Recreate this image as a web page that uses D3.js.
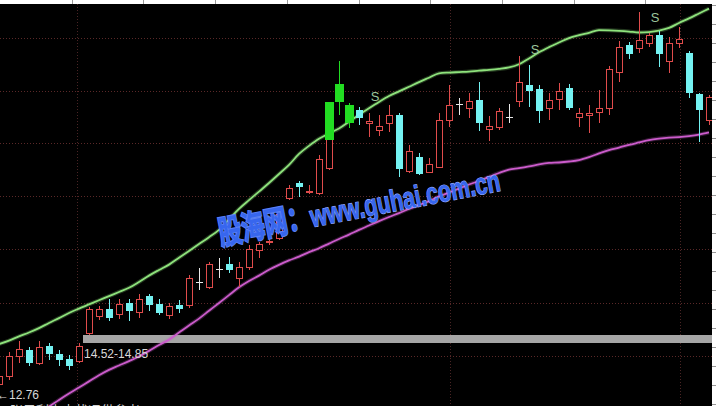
<!DOCTYPE html>
<html><head><meta charset="utf-8">
<script src="https://cdn.jsdelivr.net/npm/d3@7"></script>
<style>html,body{margin:0;padding:0;background:#000;overflow:hidden}</style>
</head><body><svg id="c" width="716" height="406"></svg>
<script>
// ---- data (prices) ----
const openP  = [12.84,13.17,13.99,14.24,13.70,14.40,14.07,13.87,13.79,14.93,15.63,15.91,15.71,16.16,15.79,16.44,16.12,15.67,16.08,16.08,17.02,16.81,17.55,17.75,17.18,17.63,18.33,18.67,18.82,20.45,21.07,20.72,20.66,21.68,25.12,24.27,24.06,23.53,23.24,23.53,23.86,21.56,22.13,21.52,21.72,23.65,24.31,24.14,24.47,23.28,23.37,23.77,24.43,25.08,24.92,24.14,24.51,24.96,23.77,23.86,23.98,24.14,25.62,26.72,26.60,26.80,27.13,26.06,26.80,26.39,24.72,23.65];
const highP  = [13.25,14.15,14.60,14.36,14.60,14.52,14.24,14.03,14.52,15.99,16.03,16.32,16.32,16.32,16.53,16.53,16.32,16.16,16.28,17.30,17.59,17.83,18.00,18.04,17.83,18.53,18.65,18.77,19.88,20.98,21.15,20.98,22.21,23.03,26.07,24.35,24.18,23.94,23.86,24.27,23.94,22.62,22.29,22.09,23.94,25.08,24.55,24.76,25.21,23.82,24.14,24.31,26.27,25.90,25.08,24.76,25.16,25.12,24.14,24.27,24.88,25.86,26.88,26.84,28.07,27.21,27.29,27.05,27.45,26.47,24.76,24.67];
const lowP   = [12.76,13.01,13.70,13.58,13.62,13.83,13.58,13.42,13.70,14.85,15.46,15.42,15.50,15.42,15.54,15.83,15.67,15.50,15.75,15.95,16.69,16.73,17.18,17.38,16.81,17.51,18.00,18.53,18.73,20.37,20.49,20.62,20.58,21.60,23.86,23.32,23.45,22.96,23.00,23.16,21.31,21.48,21.40,21.48,21.68,23.37,23.86,23.73,23.20,22.79,23.24,23.53,24.18,24.18,23.53,23.65,24.06,24.06,23.37,23.12,23.53,23.86,25.21,26.15,26.39,26.64,25.82,25.57,26.60,24.55,22.75,23.45];
const closeP = [13.17,13.99,14.28,13.70,14.36,14.07,13.83,13.58,14.40,15.91,15.91,15.54,16.12,15.83,16.32,16.08,15.75,16.03,15.91,17.18,17.02,17.75,17.55,17.51,17.63,18.37,18.57,18.69,19.80,20.86,20.90,20.74,22.05,23.03,24.39,23.53,23.73,23.61,23.40,23.86,21.64,22.37,21.44,21.85,23.65,24.27,24.31,24.43,23.53,23.40,24.02,23.77,25.21,24.84,24.02,24.47,24.84,24.14,23.94,23.94,24.14,25.74,26.64,26.35,26.92,27.13,26.35,26.80,26.96,24.76,24.06,24.59];
const upperBand = [14.48,14.62,14.79,14.95,15.13,15.34,15.54,15.75,15.93,16.10,16.27,16.44,16.61,16.78,17.02,17.28,17.51,17.73,18.01,18.29,18.57,18.85,19.15,19.58,20.01,20.37,20.72,21.07,21.44,21.81,22.26,22.59,22.88,23.10,23.30,23.58,23.86,24.13,24.39,24.63,24.82,25.01,25.20,25.38,25.56,25.59,25.61,25.63,25.67,25.70,25.74,25.80,25.93,26.17,26.42,26.63,26.82,27.00,27.12,27.22,27.33,27.32,27.30,27.27,27.23,27.25,27.31,27.42,27.62,27.81,28.01,28.21];
const lowerBand = [10.47,10.76,11.04,11.37,11.66,11.92,12.19,12.45,12.70,12.95,13.20,13.42,13.60,13.78,13.97,14.20,14.44,14.66,14.95,15.24,15.52,15.84,16.16,16.48,16.80,17.06,17.28,17.52,17.72,17.90,18.06,18.24,18.40,18.59,18.78,18.96,19.15,19.33,19.51,19.68,19.84,20.01,20.17,20.33,20.52,20.68,20.84,21.01,21.15,21.32,21.48,21.62,21.68,21.75,21.83,21.89,21.91,21.95,22.01,22.13,22.28,22.42,22.52,22.63,22.73,22.83,22.89,22.93,22.95,22.99,23.05,23.14];
// green signal bars
const sigIdx   = [33,34,35];
const sigOpen  = [24.39,25.12,24.27];
const sigHigh  = [24.39,26.07,24.35];
const sigLow   = [22.83,23.86,23.32];
const sigClose = [22.83,24.39,23.53];
// "S" marks
const sIdx = [38,54,66];
const sPrice = [24.43,26.35,27.66];
// grid
const gridPrices = [27.00,24.84,22.70,20.52,18.35,16.15,13.98];
const vGridIdx = [7.8,45.1,68.1];
// gap zone & labels
const gapLow = 14.52, gapHigh = 14.85, gapStartIdx = 8;
const gapLabel = "14.52-14.85";
const lowLabel = "←12.76", lowValue = 12.76;
const bottomText = "张思利中内状况供参考";
const watermarkCJK = "股海网：", watermarkURL = "www.guhai.com.cn";

// ---- drawing ----
const W = 716, H = 406;
const svg = d3.select('#c');
const N = openP.length;
const x = d3.scaleLinear().domain([0, N - 1]).range([-1, 709]);
const y = d3.scaleLinear().domain([12, 28]).range([404.6, 13.7]);
const step = x(1) - x(0);
const bw = Math.round(step * 0.7);
const half = Math.floor(bw / 2);
const R = v => Math.round(v);

svg.append('rect').attr('width', W).attr('height', H).attr('fill', '#000');

const grid = svg.append('g');
grid.selectAll('line.h').data(gridPrices).join('line')
  .attr('x1', 0).attr('x2', 712)
  .attr('y1', d => R(y(d)) + 0.5).attr('y2', d => R(y(d)) + 0.5)
  .attr('stroke', '#5a2828').attr('stroke-dasharray', '1,2');
grid.selectAll('line.v').data(vGridIdx).join('line')
  .attr('x1', d => R(x(d)) + 0.5).attr('x2', d => R(x(d)) + 0.5)
  .attr('y1', 4).attr('y2', H)
  .attr('stroke', '#4a2424').attr('stroke-dasharray', '1,2');

// gap bar
const gx = R(x(gapStartIdx)) + half + 1;
svg.append('rect').attr('x', gx).attr('y', R(y(gapHigh)))
  .attr('width', 712 - gx).attr('height', R(y(gapLow)) - R(y(gapHigh)))
  .attr('fill', '#a6a6a6');

// bands
const line = d3.line().x((d, i) => x(i)).y(d => y(d)).curve(d3.curveMonotoneX);
function band(vals, col) {
  svg.append('path').attr('d', line(vals)).attr('fill', 'none')
    .attr('stroke', col).attr('stroke-width', 4).attr('stroke-opacity', 0.25);
  svg.append('path').attr('d', line(vals)).attr('fill', 'none')
    .attr('stroke', col).attr('stroke-width', 1.8);
}
band(lowerBand, '#cc5ccc');
band(upperBand, '#8ee27c');

// candles
const cg = svg.append('g');
const RED = '#e04c4c', CYAN = '#74f2f2', WHITE = '#e8e8e8';
for (let i = 0; i < N; i++) {
  const cx = R(x(i));
  const o = openP[i], c = closeP[i], h = highP[i], l = lowP[i];
  const yo = R(y(o)), yc = R(y(c)), yh = R(y(h)), yl = R(y(l));
  if (c > o) {
    cg.append('line').attr('x1', cx + 0.5).attr('x2', cx + 0.5).attr('y1', yh).attr('y2', yc).attr('stroke', RED);
    cg.append('line').attr('x1', cx + 0.5).attr('x2', cx + 0.5).attr('y1', yo).attr('y2', yl).attr('stroke', RED);
    cg.append('rect').attr('x', cx - half + 0.5).attr('y', yc + 0.5)
      .attr('width', bw - 1).attr('height', Math.max(1, yo - yc))
      .attr('fill', '#000').attr('stroke', RED);
  } else if (c < o) {
    cg.append('line').attr('x1', cx + 0.5).attr('x2', cx + 0.5).attr('y1', yh).attr('y2', yl).attr('stroke', CYAN);
    cg.append('rect').attr('x', cx - half).attr('y', yo)
      .attr('width', bw).attr('height', Math.max(1, yc - yo)).attr('fill', CYAN);
  } else {
    cg.append('line').attr('x1', cx + 0.5).attr('x2', cx + 0.5).attr('y1', yh).attr('y2', yl).attr('stroke', WHITE);
    cg.append('line').attr('x1', cx - half).attr('x2', cx + half + 1).attr('y1', yo + 0.5).attr('y2', yo + 0.5).attr('stroke', WHITE);
  }
}
// green signal bars
sigIdx.forEach((k, j) => {
  const cx = R(x(k));
  cg.append('line').attr('x1', cx + 0.5).attr('x2', cx + 0.5)
    .attr('y1', R(y(sigHigh[j]))).attr('y2', R(y(sigLow[j]))).attr('stroke', '#22dd22');
  const t = R(y(Math.max(sigOpen[j], sigClose[j]))), b = R(y(Math.min(sigOpen[j], sigClose[j])));
  cg.append('rect').attr('x', cx - half - 1).attr('y', t).attr('width', bw + 2).attr('height', b - t).attr('fill', '#22dd22');
});
// S marks
svg.selectAll('text.s').data(sIdx).join('text')
  .attr('x', d => x(d) - step * 0.4).attr('y', (d, j) => y(sPrice[j]))
  .attr('text-anchor', 'middle').attr('font-family', 'Liberation Sans, Arial, sans-serif')
  .attr('font-size', 13).attr('fill', '#9cc69c').text('S');

// labels
svg.append('text').attr('x', gx + 1).attr('y', R(y(gapLow)) + 15)
  .attr('font-family', 'Liberation Sans, Arial, sans-serif').attr('font-size', 12)
  .attr('fill', '#d8d8d8').text(gapLabel);
svg.append('text').attr('x', -3).attr('y', R(y(lowValue)) + 13)
  .attr('font-family', 'Liberation Sans, DejaVu Sans, sans-serif').attr('font-size', 12)
  .attr('fill', '#d8d8d8').text(lowLabel);
svg.append('text').attr('x', 10).attr('y', 415)
  .attr('font-family', 'Noto Sans CJK SC, sans-serif').attr('font-size', 13)
  .attr('fill', '#d0d0d0').text(bottomText);

// watermark (tall, slightly condensed lettering, rotated)
const wm = svg.append('text').attr('transform', 'translate(221,245) rotate(-11) scale(0.93,1.32)')
  .attr('fill', '#3766ee').attr('font-weight', 'bold').attr('paint-order', 'stroke');
wm.append('tspan').attr('font-family', 'Noto Sans CJK SC, sans-serif').attr('font-size', 25)
  .attr('stroke', '#5a80f4').attr('stroke-width', 1.6).text(watermarkCJK);
wm.append('tspan').attr('dx', 0).attr('font-family', 'Liberation Sans, Arial, sans-serif').attr('font-size', 23)
  .attr('stroke', '#9aaeff').attr('stroke-width', 0.9).text(watermarkURL);

// frame strips
svg.append('rect').attr('x', 0).attr('y', 0).attr('width', W).attr('height', 4).attr('fill', '#fff');
svg.selectAll('line.tt').data(d3.range(1, 10)).join('line')
  .attr('x1', d => R(d * 71.7) + 0.5).attr('x2', d => R(d * 71.7) + 0.5)
  .attr('y1', 0).attr('y2', 4).attr('stroke', '#999');
svg.append('rect').attr('x', 712).attr('y', 0).attr('width', 4).attr('height', H).attr('fill', '#fff');
svg.selectAll('line.rt').data(d3.range(0, 22)).join('line')
  .attr('x1', 712).attr('x2', 716)
  .attr('y1', d => 5 + d * 19 + 0.5).attr('y2', d => 5 + d * 19 + 0.5).attr('stroke', '#999');
</script></body></html>
